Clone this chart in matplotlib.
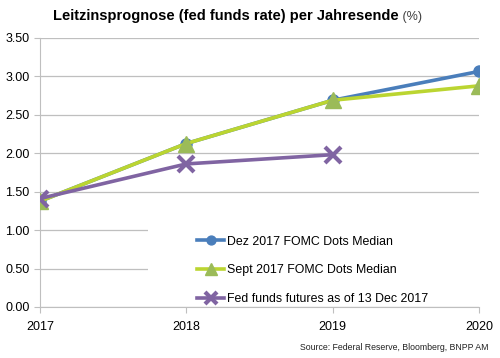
import matplotlib.pyplot as plt
from matplotlib.patches import Rectangle

plt.rcParams['font.family'] = ['Liberation Sans', 'DejaVu Sans']

# Daten
years = [2017, 2018, 2019, 2020]
dez_2017 = [1.375, 2.125, 2.6875, 3.0625]
sept_2017 = [1.375, 2.125, 2.6875, 2.875]
futures_years = [2017, 2018, 2019]
futures = [1.41, 1.86, 1.98]
y_ticks = [0.0, 0.5, 1.0, 1.5, 2.0, 2.5, 3.0, 3.5]

fig = plt.figure(figsize=(5, 3.58), dpi=100)
ax = fig.add_axes([0.08, 0.1425, 0.878, 0.752])

ax.plot(years, dez_2017, color='#4A7EBB', lw=2.6, marker='o', ms=8,
        label='Dez 2017 FOMC Dots Median', zorder=3)
ax.plot(years, sept_2017, color='#BBD531', lw=2.6, marker='^', ms=11,
        mfc='#9BBB59', mec='#9BBB59', label='Sept 2017 FOMC Dots Median', zorder=4)
ax.plot(futures_years, futures, color='#8064A2', lw=2.6, marker='x', ms=11, mew=3,
        label='Fed funds futures as of 13 Dec 2017', zorder=5)

ax.set_xlim(2017, 2020)
ax.set_ylim(0, 3.5)
ax.set_yticks(y_ticks)
ax.set_yticklabels([f'{v:.2f}' for v in y_ticks])
ax.set_xticks(years)
ax.grid(axis='y', color='#BFBFBF', lw=0.9)
ax.set_axisbelow(True)
for s in ['top', 'right']:
    ax.spines[s].set_visible(False)
ax.spines['left'].set_color('#BFBFBF')
ax.spines['bottom'].set_color('#BFBFBF')
ax.tick_params(axis='both', colors='#BFBFBF', labelcolor='black', labelsize=9, length=4)
ax.tick_params(axis='x', pad=6)

# weisser Hintergrund der Legende (unterbricht Gitterlinien)
ax.add_patch(Rectangle((0.246, 0.003), 0.754, 0.34, transform=ax.transAxes,
                       facecolor='white', edgecolor='none', zorder=1))

leg = ax.legend(loc='upper left', bbox_to_anchor=(0.358, 0.265), frameon=False,
                fontsize=8.9, handlelength=2.2, handletextpad=0.2, labelspacing=1.35,
                borderaxespad=0, borderpad=0, markerscale=0.8)
leg.set_zorder(6)

t = fig.text(0.106, 0.955, 'Leitzinsprognose (fed funds rate) per Jahresende',
             fontsize=10.5, fontweight='bold', ha='left', va='center')
ax.annotate(' (%)', xy=(1, 0), xycoords=t, va='bottom', ha='left', fontsize=9, color='#404040')

fig.text(0.978, 0.03, 'Source: Federal Reserve, Bloomberg, BNPP AM', fontsize=6.3,
         ha='right', va='center', color='#222222')

fig.savefig('out.png', dpi=100)
